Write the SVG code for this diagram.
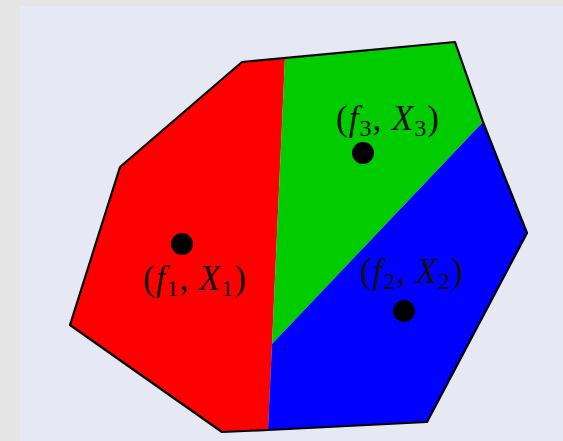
<svg xmlns="http://www.w3.org/2000/svg" width="563" height="441" viewBox="0 0 563 441">
<style>
.cell{stroke:none}
.edge{fill:none;stroke:#000;stroke-width:2.2;stroke-linejoin:round}
.dot{fill:#000}
.lbl{font-family:"Liberation Serif","DejaVu Serif",serif;font-size:35px;fill:#111;letter-spacing:1px}
.it{font-style:italic}
.sub{font-size:24px}
</style>
<rect x="0" y="0" width="563" height="441" fill="#e5e5e5"/>
<rect x="20" y="6" width="543" height="435" fill="#e6e8f4"/>
<g id="region1">
<polygon class="cell" fill="#ff0000" points="242,62 285,58 272,344 268,430 222,432 70,325 120,167"/>
</g>
<g id="region3">
<polygon class="cell" fill="#00cc00" points="285,58 455,42 483,122 272,344"/>
</g>
<g id="region2">
<polygon class="cell" fill="#0000ff" points="483,122 527,233 427,422 268,430 272,344"/>
</g>
<g id="connectors">
<polygon class="edge" points="242,62 455,42 483,122 527,233 427,422 268,430 222,432 70,325 120,167"/>
</g>
<g id="site1">
<circle class="dot" cx="182" cy="244" r="11"/>
<text class="lbl" x="143" y="290">(<tspan class="it">f</tspan><tspan class="sub" dy="6">1</tspan><tspan dy="-6">, </tspan><tspan class="it">X</tspan><tspan class="sub" dy="6">1</tspan><tspan dy="-6">)</tspan></text>
</g>
<g id="site2">
<circle class="dot" cx="404" cy="311" r="11"/>
<text class="lbl" x="360" y="283">(<tspan class="it">f</tspan><tspan class="sub" dy="6">2</tspan><tspan dy="-6">, </tspan><tspan class="it">X</tspan><tspan class="sub" dy="6">2</tspan><tspan dy="-6">)</tspan></text>
</g>
<g id="site3">
<circle class="dot" cx="363" cy="153" r="11"/>
<text class="lbl" x="336" y="130">(<tspan class="it">f</tspan><tspan class="sub" dy="6">3</tspan><tspan dy="-6">, </tspan><tspan class="it">X</tspan><tspan class="sub" dy="6">3</tspan><tspan dy="-6">)</tspan></text>
</g>
</svg>
